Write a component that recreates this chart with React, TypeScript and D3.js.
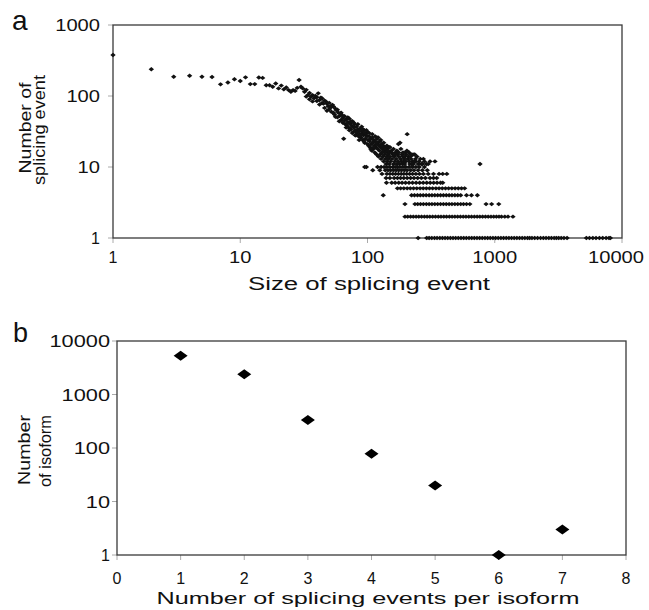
import React from "react";
import * as d3 from "d3";

const W = 649;
const H = 610;

// ---------- Panel a: size of splicing event vs number of events ----------
const cloudPoints: [number, number][] = [
  [1, 378], [2, 238], [3, 187], [4, 193], [5, 187], [6, 185], [7, 146], [8, 155], [9, 172], [10, 163],
  [11, 183], [12, 147], [13, 147], [14, 182], [15, 180], [16, 142], [17, 142], [18, 135], [19, 150], [20, 128],
  [21, 140], [22, 124], [23, 132], [24, 121], [25, 115], [26, 121], [27, 118], [28, 130], [29, 168], [30, 135],
  [31, 128], [32, 115], [33, 122], [34, 103], [35, 110], [36, 98], [37, 103], [38, 93], [39, 100], [40, 85],
  [41, 109], [42, 88], [43, 95], [44, 80], [45, 78], [46, 68], [47, 84], [48, 78], [49, 72], [50, 65],
  [51, 71], [52, 60], [53, 75], [54, 71], [55, 55], [56, 66], [57, 63], [58, 50], [59, 58], [60, 52],
  [61, 57], [62, 46], [63, 54], [64, 49], [65, 25], [66, 52], [67, 40], [68, 47], [69, 39], [70, 43],
  [71, 36], [72, 48], [73, 41], [74, 34], [75, 38], [76, 44], [77, 31], [78, 36], [79, 40], [80, 33],
  [81, 28], [82, 37], [83, 30], [84, 34], [85, 27], [86, 32], [87, 29], [88, 35], [89, 26], [90, 37],
  [91, 30], [92, 24], [93, 28], [94, 33], [95, 22], [96, 25], [97, 29], [98, 10], [99, 27], [100, 31],
  [101, 24], [102, 20], [103, 27], [104, 23], [105, 19], [106, 25], [107, 21], [108, 17], [109, 26], [110, 22],
  [111, 18], [112, 24], [113, 20], [114, 16], [115, 23], [116, 19], [117, 21], [118, 15], [119, 25], [120, 18],
  [121, 22], [122, 14], [123, 20], [124, 17], [125, 23], [126, 15], [127, 19], [128, 13], [129, 21], [130, 16],
  [131, 18], [132, 14], [133, 20], [134, 12], [135, 17], [136, 15], [137, 19], [138, 13], [139, 16], [140, 11],
  [141, 18], [142, 14], [143, 12], [144, 17], [145, 15], [146, 13], [147, 19], [148, 11], [149, 16], [150, 14],
  [152, 12], [154, 17], [156, 13], [158, 15], [160, 11], [162, 14], [164, 12], [166, 16], [168, 13], [170, 11],
  [172, 15], [174, 12], [175, 21], [176, 14], [178, 11], [180, 22], [182, 13], [184, 12], [186, 15], [188, 11],
  [190, 14], [192, 12], [194, 13], [196, 11], [198, 16], [200, 12], [202, 15], [205, 29], [207, 13], [210, 14],
  [212, 12], [215, 11], [218, 14], [220, 13], [222, 11], [225, 12], [228, 15], [230, 11], [233, 12], [235, 15],
  [238, 13], [240, 12], [245, 14], [250, 11], [255, 12], [260, 13], [265, 11], [270, 11], [275, 13], [280, 12],
  [290, 11], [300, 11], [310, 12], [339, 12], [766, 11],
  // additional events in the thick part of the cloud
  [33, 98], [35, 90], [37, 84], [40, 96], [42, 76], [44, 92], [46, 86], [48, 62], [50, 80], [52, 70],
  [54, 58], [56, 51], [58, 64], [60, 44], [62, 58], [64, 42], [66, 45], [68, 36], [70, 50], [72, 33],
  [74, 44], [76, 30], [78, 42], [80, 28], [82, 31], [84, 40], [86, 24], [88, 28], [90, 32], [92, 34],
  [94, 23], [96, 30], [98, 33], [100, 21], [103, 30], [106, 18], [109, 29], [112, 19], [115, 27], [118, 22],
  [121, 26], [124, 20], [127, 24], [130, 20], [134, 22], [138, 18], [142, 20], [146, 17], [150, 19], [155, 16],
  [160, 18], [165, 15], [170, 17], [176, 16], [183, 18], [190, 16], [197, 14], [204, 17], [212, 16], [220, 15],
];

const sizesAtCount10 = [95, 120, 128, 135, 142, 150, 158, 165, 172, 180, 190, 200, 212, 225, 240, 255, 280];
const sizesAtCount9 = [110, 125, 138, 145, 152, 160, 168, 176, 185, 195, 205, 218, 232, 250, 270, 295];
const sizesAtCount8 = [130, 142, 150, 158, 166, 175, 184, 193, 203, 214, 226, 240, 256, 275, 300, 330, 365, 390, 420];
const sizesAtCount7 = [140, 150, 162, 172, 182, 193, 205, 218, 232, 248, 265, 285, 310, 330, 350];
const sizesAtCount6 = [141, 155, 165, 176, 187, 199, 212, 226, 241, 257, 274, 292, 311, 331, 352, 375, 390];
const sizesAtCount5 = [172, 182, 193, 205, 217, 230, 244, 259, 274, 290, 307, 325, 345, 365, 387, 410, 434, 460, 488, 517, 548, 580];
const sizesAtCount4 = [133, 222, 234, 247, 260, 274, 289, 305, 321, 338, 356, 375, 395, 416, 438, 461, 486, 512, 540, 600, 656, 730];
const sizesAtCount3 = [197, 236, 248, 261, 275, 290, 305, 321, 338, 356, 375, 395, 416, 438, 461, 486, 512, 540, 568, 600, 637, 855, 945, 1075];
const sizesAtCount2 = [197, 207, 218, 229, 241, 253, 266, 280, 294, 309, 325, 342, 360, 378, 398, 418, 440, 462, 486, 511, 537, 565, 594, 625, 657, 691, 727, 764, 803, 845, 888, 934, 982, 1030, 1080, 1130, 1200, 1271, 1390];
const sizesAtCount1 = [250, 292, 305, 320, 336, 352, 370, 388, 407, 427, 448, 470, 493, 517, 543, 570, 598, 628, 659, 691, 725, 761, 798, 838, 879, 922, 968, 1015, 1065, 1118, 1173, 1231, 1292, 1355, 1422, 1492, 1566, 1643, 1724, 1809, 1880, 1960, 2060, 2170, 2290, 2410, 2530, 2660, 2790, 2930, 3050, 3180, 3330, 3500, 3700, 5250, 5550, 5900, 6250, 6650, 7050, 7500, 7900, 8100];

const xTicksA = [1, 10, 100, 1000, 10000];
const yTicksA = [1, 10, 100, 1000];

// ---------- Panel b: splicing events per isoform ----------
const eventsPerIsoform = [1, 2, 3, 4, 5, 6, 7];
const isoformCounts = [5300, 2390, 334, 78, 20, 1, 3];
const xTicksB = [0, 1, 2, 3, 4, 5, 6, 7, 8];
const yTicksB = [1, 10, 100, 1000, 10000];

const FONT = "'Liberation Sans', Arial, Helvetica, sans-serif";

function diamond(cx: number, cy: number, w: number, h: number) {
  return `M${cx - w / 2},${cy}L${cx},${cy - h / 2}L${cx + w / 2},${cy}L${cx},${cy + h / 2}Z`;
}

export default function App() {
  const xA = d3.scaleLog().domain([1, 10000]).range([113, 622]);
  const yA = d3.scaleLog().domain([1, 1000]).range([238, 25]);
  const xB = d3.scaleLinear().domain([0, 8]).range([117, 626]);
  const yB = d3.scaleLog().domain([1, 10000]).range([555, 341]);

  const bands: [number, number[]][] = [
    [1, sizesAtCount1], [2, sizesAtCount2], [3, sizesAtCount3], [4, sizesAtCount4], [5, sizesAtCount5],
    [6, sizesAtCount6], [7, sizesAtCount7], [8, sizesAtCount8], [9, sizesAtCount9], [10, sizesAtCount10],
  ];
  const pointsA: [number, number][] = [...cloudPoints];
  bands.forEach(([c, sizes]) => sizes.forEach((s) => pointsA.push([s, c])));

  const fmt = (v: number) => String(v);
  const frameColor = "#3a3a3a";
  const tickColor = "#aaa";

  return (
    <div style={{ position: "absolute", left: 0, top: 0 }}>
      <svg width={W} height={H} style={{ display: "block", background: "#fff" }} fontFamily={FONT}>
        {/* ===== Panel a ===== */}
        <text x={12} y={30} fontSize={28} fill="#111">a</text>
        {yTicksA.map((t) => (
          <g key={"ya" + t}>
            <line x1={xA.range()[0] - 5} x2={xA.range()[0]} y1={yA(t)} y2={yA(t)} stroke={tickColor} />
            <text x={100} y={yA(t) + 6} fontSize={16} textAnchor="end" fill="#111"
              textLength={fmt(t).length > 1 ? fmt(t).length * 11.2 : undefined} lengthAdjust="spacingAndGlyphs">
              {fmt(t)}
            </text>
          </g>
        ))}
        {xTicksA.map((t, i) => (
          <g key={"xa" + t}>
            <line x1={xA(t)} x2={xA(t)} y1={238} y2={243} stroke={tickColor} />
            <text x={i === xTicksA.length - 1 ? xA(t) - 6 : xA(t)} y={263} fontSize={16} textAnchor="middle" fill="#111"
              textLength={fmt(t).length > 1 ? fmt(t).length * 11.2 : undefined} lengthAdjust="spacingAndGlyphs">
              {fmt(t)}
            </text>
          </g>
        ))}
        <rect x={113} y={25} width={622 - 113} height={238 - 25} fill="none" stroke={frameColor} strokeWidth={1.3} />
        <g transform="translate(31,128) rotate(-90)">
          <text x={0} y={0} fontSize={16} textAnchor="middle" fill="#111" textLength={91} lengthAdjust="spacingAndGlyphs">
            Number of
          </text>
        </g>
        <g transform="translate(45,130) rotate(-90)">
          <text x={0} y={0} fontSize={16} textAnchor="middle" fill="#111" textLength={110} lengthAdjust="spacingAndGlyphs">
            splicing event
          </text>
        </g>
        <text x={369} y={290} fontSize={18} textAnchor="middle" fill="#111" textLength={242} lengthAdjust="spacingAndGlyphs">
          Size of splicing event
        </text>
        {pointsA.map(([s, c], i) => (
          <path key={"pa" + i} d={diamond(xA(s), yA(c), 5.4, 4.4)} fill="#111" />
        ))}

        {/* ===== Panel b ===== */}
        <text x={13} y={342} fontSize={27} fill="#111">b</text>
        {yTicksB.map((t) => (
          <g key={"yb" + t}>
            <line x1={xB.range()[0] - 5} x2={xB.range()[0]} y1={yB(t)} y2={yB(t)} stroke={tickColor} />
            <text x={110} y={yB(t) + 6} fontSize={16} textAnchor="end" fill="#111"
              textLength={fmt(t).length > 1 ? fmt(t).length * 12.1 : undefined} lengthAdjust="spacingAndGlyphs">
              {fmt(t)}
            </text>
          </g>
        ))}
        {xTicksB.map((t) => (
          <g key={"xb" + t}>
            <line x1={xB(t)} x2={xB(t)} y1={555} y2={560} stroke={tickColor} />
            <text x={xB(t)} y={584} fontSize={16} textAnchor="middle" fill="#111">
              {fmt(t)}
            </text>
          </g>
        ))}
        <rect x={117} y={341} width={626 - 117} height={555 - 341} fill="none" stroke={frameColor} strokeWidth={1.3} />
        <g transform="translate(30,450) rotate(-90)">
          <text x={0} y={0} fontSize={16} textAnchor="middle" fill="#111" textLength={70} lengthAdjust="spacingAndGlyphs">
            Number
          </text>
        </g>
        <g transform="translate(51,451) rotate(-90)">
          <text x={0} y={0} fontSize={16} textAnchor="middle" fill="#111" textLength={72} lengthAdjust="spacingAndGlyphs">
            of isoform
          </text>
        </g>
        <text x={368} y={604} fontSize={17} textAnchor="middle" fill="#111" textLength={423} lengthAdjust="spacingAndGlyphs">
          Number of splicing events per isoform
        </text>
        {eventsPerIsoform.map((e, i) => (
          <path key={"pb" + i} d={diamond(xB(e), yB(isoformCounts[i]), 14, 10)} fill="#000" />
        ))}
      </svg>
    </div>
  );
}
